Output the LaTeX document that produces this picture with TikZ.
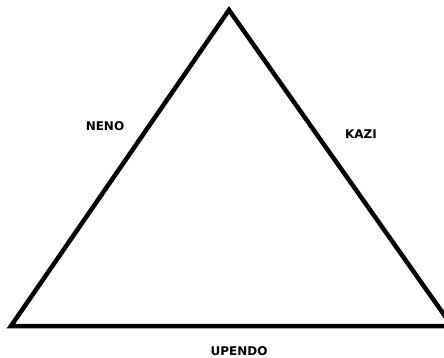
\documentclass[tikz,border=0pt]{standalone}
\usepackage{fontspec}
\setmainfont{DejaVu Sans}
\begin{document}
\begin{tikzpicture}[x=1pt,y=-1pt,
  edge/.style={line width=4.5pt, line join=miter},
  lbl/.style={font=\bfseries\fontsize{12}{13}\selectfont, inner sep=0pt, anchor=base}]
\useasboundingbox[fill=white] (0,0) rectangle (444,357);
\coordinate (top) at (229,10);
\coordinate (bl) at (11,326);
\coordinate (br) at (452,326);
\draw[edge] (top) -- (bl) -- (br) -- cycle;
\node[lbl] (neno) at (105,130.5) {NENO};
\node[lbl] (kazi) at (361,138.5) {KAZI};
\node[lbl] (upendo) at (239,355) {UPENDO};
\end{tikzpicture}
\end{document}
